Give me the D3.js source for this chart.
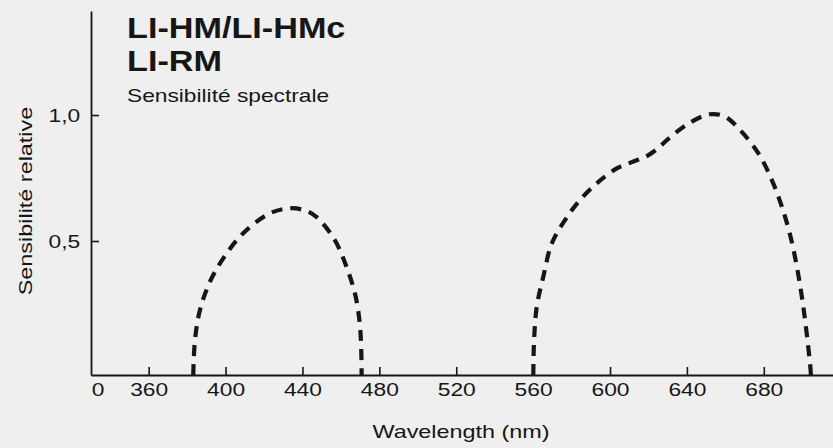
<!DOCTYPE html>
<html><head><meta charset="utf-8">
<script src="https://cdn.jsdelivr.net/npm/d3@7"></script>
<style>
html,body{margin:0;padding:0;background:#efefef;}
svg{display:block;font-family:"Liberation Sans",Arial,Helvetica,sans-serif;}
</style></head>
<body><svg id="c" width="833" height="448"></svg>
<script>
// ---- data ----
const titleLines = ["LI-HM/LI-HMc", "LI-RM"];
const subtitle = "Sensibilité spectrale";
const xLabel = "Wavelength (nm)";
const yLabel = "Sensibilité relative";
const xTicks = [360, 400, 440, 480, 520, 560, 600, 640, 680];
const xOriginLabel = "0";
const yTicks = [0.5, 1.0];
const yTickLabels = ["0,5", "1,0"];
// blue band
const blueWl  = [383.2, 384.1, 386.7, 391.9, 398.8, 409.2, 423.1, 433.4, 441, 447.2, 456.8, 462.9, 467.7, 470.1, 470.8];
const blueVal = [0, 0.131, 0.243, 0.348, 0.435, 0.531, 0.610, 0.630, 0.622, 0.596, 0.504, 0.404, 0.292, 0.168, 0];
// red band
const redWl  = [560.1, 560.5, 561.9, 565.3, 569.7, 576.6, 584.4, 594.0, 603.5, 611, 618.9, 625, 630, 640, 651.8, 660, 667.7, 677.2, 684.2, 689.4, 693.7, 697.2, 699.8, 701.9, 704.2, 704.5];
const redVal = [0, 0.131, 0.255, 0.367, 0.491, 0.583, 0.663, 0.735, 0.788, 0.812, 0.836, 0.868, 0.903, 0.962, 1.003, 0.993, 0.940, 0.848, 0.742, 0.636, 0.524, 0.404, 0.292, 0.180, 0.031, 0];

// ---- chart ----
const svg = d3.select("#c");
const ink = "#161616";
const x = d3.scaleLinear().domain([330, 716]).range([91, 833]);
const y = d3.scaleLinear().domain([0, 0.5, 1.413]).range([375, 241, 11]);

// x axis
const gx = svg.append("g").attr("transform", "translate(0,375)")
  .call(d3.axisBottom(x).tickValues(xTicks).tickSizeInner(-8).tickSizeOuter(0).tickPadding(8).tickFormat(d3.format("d")));
gx.select(".domain").attr("stroke", ink).attr("stroke-width", 1.8);
gx.selectAll(".tick line").attr("stroke", ink).attr("stroke-width", 1.6);
gx.selectAll(".tick text").attr("fill", ink).attr("font-size", 19).attr("transform", "scale(1.2,1)").attr("font-family", "Liberation Sans, Arial, sans-serif");
svg.append("text").attr("x", x(330) + 7).attr("y", 375 + 8).attr("dy", "0.71em")
  .attr("text-anchor", "middle").attr("font-size", 19).attr("fill", ink)
  .attr("transform", `translate(${x(330)+7},0) scale(1.2,1) translate(${-(x(330)+7)},0)`)
  .text(xOriginLabel);

// y axis
const gy = svg.append("g").attr("transform", "translate(91,0)")
  .call(d3.axisLeft(y).tickValues(yTicks).tickSizeInner(-8).tickSizeOuter(0).tickPadding(9)
    .tickFormat((d, i) => yTickLabels[i]));
gy.select(".domain").attr("stroke", ink).attr("stroke-width", 1.8);
gy.selectAll(".tick line").attr("stroke", ink).attr("stroke-width", 1.6);
gy.selectAll(".tick text").attr("fill", ink).attr("font-size", 19).attr("transform", "scale(1.2,1)").attr("font-family", "Liberation Sans, Arial, sans-serif");

// axis titles
svg.append("text").attr("transform", "translate(461,438) scale(1.3,1)")
  .attr("text-anchor", "middle").attr("font-size", 18).attr("fill", ink).text(xLabel);
svg.append("text").attr("transform", "translate(32,201) rotate(-90) scale(1.3,1)")
  .attr("text-anchor", "middle").attr("font-size", 18).attr("fill", ink).text(yLabel);

// titles
titleLines.forEach((t, i) => {
  svg.append("text").attr("transform", `translate(127,${38 + i * 33}) scale(1.14,1)`)
    .attr("font-size", 30).attr("font-weight", "bold").attr("fill", ink).text(t);
});
svg.append("text").attr("transform", "translate(127,102) scale(1.3,1)")
  .attr("font-size", 17.5).attr("fill", ink).text(subtitle);

// curves
const line = d3.line().x(d => x(d[0])).y(d => y(d[1])).curve(d3.curveCatmullRom.alpha(0.5));
[[blueWl, blueVal], [redWl, redVal]].forEach(([w, v]) => {
  svg.append("path").datum(w.map((d, i) => [d, v[i]]))
    .attr("d", line).attr("fill", "none").attr("stroke", ink)
    .attr("stroke-width", 4.2).attr("stroke-dasharray", "11,8");
});
</script></body></html>
